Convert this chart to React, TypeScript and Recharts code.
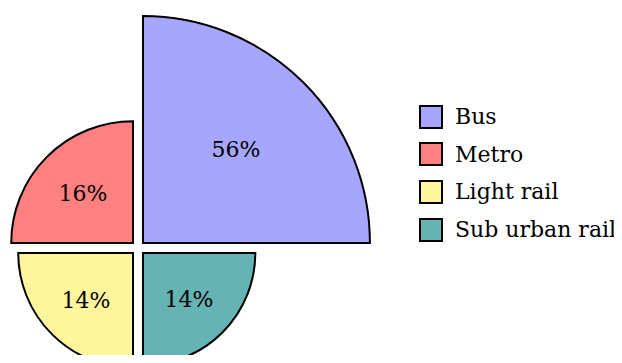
import React from "react";
import { PieChart, Pie, Cell, Legend } from "recharts";

const categories = ["Bus", "Metro", "Light rail", "Sub urban rail"];
const shares = [55.9, 16.1, 14.3, 13.7];
const colors = ["#a6a6ff", "#ff8080", "#fff59d", "#66b3b3"];

const FONT = "'DejaVu Serif', serif";
const RADIUS_SCALE = 30.35; // px per sqrt(percent) -> slice area follows the share
const CX = 138;
const CY = 248;
const GAP = 5;

const renderLabel = (props: any) => {
  const { cx, cy, midAngle, outerRadius, value } = props;
  const RADIAN = Math.PI / 180;
  const r = outerRadius * 0.58;
  const x = cx + r * Math.cos(-midAngle * RADIAN);
  const y = cy + r * Math.sin(-midAngle * RADIAN);
  return (
    <text
      x={x}
      y={y}
      fill="#000"
      textAnchor="middle"
      dominantBaseline="central"
      fontFamily={FONT}
      fontSize={22}
    >
      {`${Math.round(value)}%`}
    </text>
  );
};

const renderLegend = () => (
  <div style={{ fontFamily: FONT, fontSize: 22, color: "#000" }}>
    {categories.map((name, i) => (
      <div
        key={name}
        style={{ display: "flex", alignItems: "center", height: 37.6 }}
      >
        <span
          style={{
            display: "inline-block",
            width: 20,
            height: 20,
            background: colors[i],
            border: "2px solid #000",
            marginRight: 12,
          }}
        />
        <span style={{ whiteSpace: "nowrap" }}>{name}</span>
      </div>
    ))}
  </div>
);

export default function App() {
  return (
    <div style={{ margin: -8, background: "#fff" }}>
      <PieChart
        width={622}
        height={363}
        margin={{ top: 0, right: 0, bottom: 0, left: 0 }}
      >
        {shares.map((v, i) => {
          const start = i * 90;
          const mid = ((start + 45) * Math.PI) / 180;
          const dx = Math.cos(mid) >= 0 ? GAP : -GAP;
          const dy = Math.sin(mid) >= 0 ? -GAP : GAP;
          return (
            <Pie
              key={categories[i]}
              data={[{ name: categories[i], value: v }]}
              dataKey="value"
              cx={CX + dx}
              cy={CY + dy}
              innerRadius={0}
              outerRadius={RADIUS_SCALE * Math.sqrt(v)}
              startAngle={start}
              endAngle={start + 90}
              stroke="#000"
              strokeWidth={2}
              label={renderLabel}
              labelLine={false}
              isAnimationActive={false}
            >
              <Cell fill={colors[i]} />
            </Pie>
          );
        })}
        <Legend
          layout="vertical"
          verticalAlign="middle"
          align="right"
          content={renderLegend}
          wrapperStyle={{ left: 419, top: 98, width: 203 }}
        />
      </PieChart>
    </div>
  );
}
